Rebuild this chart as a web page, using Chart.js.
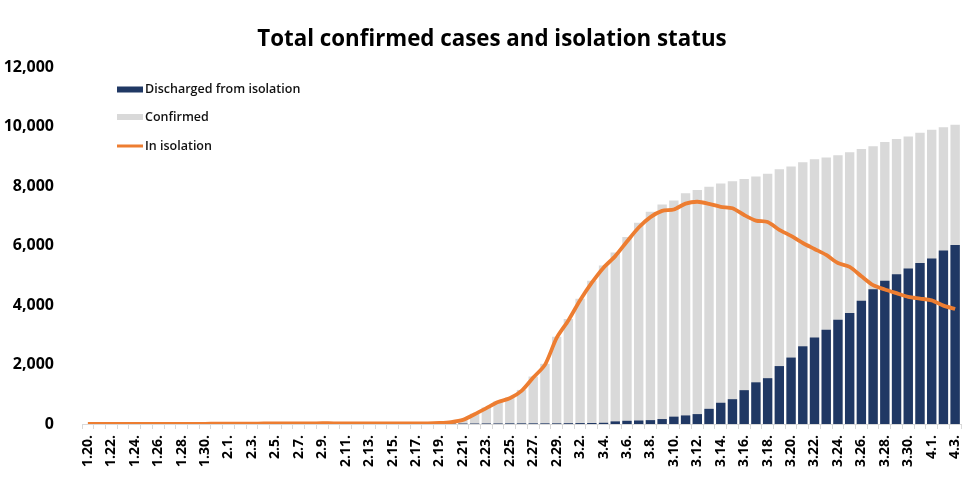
<!DOCTYPE html>
<html><head><meta charset="utf-8">
<script src="https://cdn.jsdelivr.net/npm/chart.js@4.4.1/dist/chart.umd.min.js"></script>
<style>html,body{margin:0;padding:0;background:#fff}canvas{display:block}</style>
</head><body>
<canvas id="c" width="965" height="485"></canvas>
<script>
const dates = [
 "1.20.","1.21.","1.22.","1.23.","1.24.","1.25.","1.26.","1.27.","1.28.","1.29.","1.30.","1.31.",
 "2.1.","2.2.","2.3.","2.4.","2.5.","2.6.","2.7.","2.8.","2.9.","2.10.","2.11.","2.12.","2.13.","2.14.","2.15.","2.16.","2.17.","2.18.","2.19.","2.20.","2.21.","2.22.","2.23.","2.24.","2.25.","2.26.","2.27.","2.28.","2.29.",
 "3.1.","3.2.","3.3.","3.4.","3.5.","3.6.","3.7.","3.8.","3.9.","3.10.","3.11.","3.12.","3.13.","3.14.","3.15.","3.16.","3.17.","3.18.","3.19.","3.20.","3.21.","3.22.","3.23.","3.24.","3.25.","3.26.","3.27.","3.28.","3.29.","3.30.","3.31.",
 "4.1.","4.2.","4.3."
];
const confirmed = [
 1,1,1,1,2,2,3,4,4,4,6,11,
 12,15,15,16,19,23,24,24,27,27,28,28,28,28,28,29,30,31,46,82,156,346,556,763,893,1146,1595,2022,2931,
 3526,4212,4812,5328,5766,6284,6767,7134,7382,7513,7755,7869,7979,8086,8162,8236,8320,8413,8565,8652,8799,8897,8961,9037,9137,9241,9332,9478,9583,9661,9786,
 9887,9976,10062
];
const discharged = [
 0,0,0,0,0,0,0,0,0,0,0,0,
 0,0,0,0,0,1,1,1,2,3,4,7,7,7,9,9,10,12,12,16,16,16,18,18,22,22,22,22,22,
 27,31,34,41,88,108,118,130,166,247,288,333,510,714,834,1137,1401,1540,1947,2233,2612,2909,3166,3507,3730,4144,4528,4811,5033,5228,5408,
 5567,5828,6021
];
const isolation = [
 1,1,1,1,2,2,3,4,4,4,6,11,
 12,15,15,16,19,22,23,23,25,24,24,21,21,21,19,20,20,19,34,66,139,328,533,738,863,1113,1561,1987,2893,
 3482,4159,4750,5255,5643,6134,6605,6954,7165,7212,7407,7470,7402,7300,7253,7024,6838,6789,6527,6325,6085,5884,5684,5410,5281,4966,4665,4523,4398,4275,4216,
 4155,3979,3867
];
const yTicks = [0,2000,4000,6000,8000,10000,12000];
const titleText = "Total confirmed cases and isolation status";
const seriesNames = ["In isolation","Discharged from isolation","Confirmed"];

const FONT = "'Open Sans', 'Noto Sans', sans-serif";

const titleAndLegend = {
  id: 'titleAndLegend',
  afterDraw(chart) {
    const ctx = chart.ctx;
    ctx.save();
    // title
    ctx.font = "bold 22.3px " + FONT;
    ctx.fillStyle = '#000';
    ctx.textAlign = 'center';
    ctx.textBaseline = 'middle';
    ctx.fillText(titleText, 492, 40);
    // legend
    const items = [
      {ds: chart.data.datasets[1], y: 89.5, kind: 'box'},
      {ds: chart.data.datasets[2], y: 117, kind: 'box'},
      {ds: chart.data.datasets[0], y: 146, kind: 'line'}
    ];
    ctx.font = "600 12.5px " + FONT;
    ctx.textAlign = 'left';
    for (const it of items) {
      if (it.kind === 'box') {
        ctx.fillStyle = it.ds.backgroundColor;
        ctx.fillRect(117, it.y - 3, 26, 6);
      } else {
        ctx.strokeStyle = it.ds.borderColor;
        ctx.lineWidth = 3;
        ctx.beginPath(); ctx.moveTo(117, it.y); ctx.lineTo(143, it.y); ctx.stroke();
      }
      ctx.fillStyle = '#111';
      ctx.fillText(it.ds.label, 145, it.y);
    }
    ctx.restore();
  }
};

new Chart(document.getElementById('c'), {
  data: {
    labels: dates,
    datasets: [
      { type: 'line', label: seriesNames[0], data: isolation, borderColor: '#ED7D31', borderWidth: 3.8,
        pointRadius: 0, tension: 0.25, order: 0 },
      { type: 'bar', label: seriesNames[1], data: discharged, backgroundColor: '#203864', grouped: false,
        barPercentage: 0.8, categoryPercentage: 1, order: 1 },
      { type: 'bar', label: seriesNames[2], data: confirmed, backgroundColor: '#D9D9D9', grouped: false,
        barPercentage: 0.8, categoryPercentage: 1, order: 2 }
    ]
  },
  options: {
    responsive: false,
    animation: false,
    layout: { padding: { left: 0, right: 4, top: 67, bottom: 12 } },
    plugins: {
      legend: { display: false },
      tooltip: { enabled: false },
      title: { display: false }
    },
    scales: {
      x: {
        offset: true,
        grid: { display: true, drawOnChartArea: false, offset: true, tickLength: 5, color: '#d9d9d9' },
        border: { color: '#d9d9d9' },
        afterFit: (s) => { s.paddingLeft = 0; s.paddingRight = 0; },
        ticks: { autoSkip: false, maxRotation: 90, minRotation: 90, color: '#000', padding: 6,
          font: { family: FONT, size: 14, weight: 'bold' },
          callback: (v, i) => (i % 2 === 0 ? dates[i] : '') }
      },
      y: {
        min: yTicks[0], max: yTicks[yTicks.length - 1],
        grid: { display: false },
        border: { display: false },
        afterBuildTicks: (s) => { s.ticks = yTicks.map(v => ({ value: v })); },
        afterFit: (s) => { s.width = 82; },
        ticks: { color: '#000', padding: 20, font: { family: FONT, size: 16, weight: 'bold' },
          callback: (v) => v.toLocaleString('en-US') }
      }
    }
  },
  plugins: [titleAndLegend]
});
</script>
</body></html>
